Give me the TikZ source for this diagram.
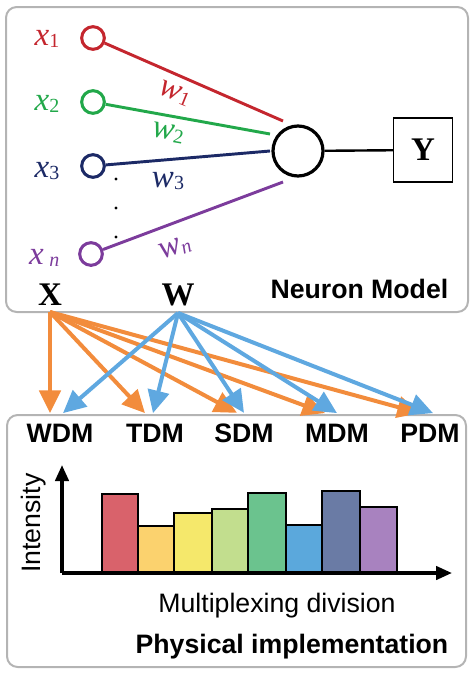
\documentclass[tikz,border=0pt]{standalone}
\usepackage{fontspec}
\setmainfont{Liberation Serif}
\setsansfont{Liberation Sans}
\usetikzlibrary{arrows.meta}
\definecolor{panelgray}{HTML}{B4B4B4}
\definecolor{lred}{HTML}{C4262E}
\definecolor{lgreen}{HTML}{22A84A}
\definecolor{lnavy}{HTML}{1C2A66}
\definecolor{lpurple}{HTML}{7C3C9C}
\definecolor{arrorange}{HTML}{F28C3C}
\definecolor{arrblue}{HTML}{5FA8E0}
\definecolor{bara}{HTML}{D9626B}
\definecolor{barb}{HTML}{FBD26E}
\definecolor{barc}{HTML}{F5E86B}
\definecolor{bard}{HTML}{C2DE8E}
\definecolor{bare}{HTML}{6BC38E}
\definecolor{barf}{HTML}{5BA8DC}
\definecolor{barg}{HTML}{6A7BA5}
\definecolor{barh}{HTML}{A882BF}
\newcommand\labfont{\fontsize{24.75}{28}\selectfont}
\newcommand\sanslab{\fontsize{20}{24}\selectfont\sffamily}
\newcommand\idx[1]{\raisebox{-1.5pt}{\fontsize{15}{17}\selectfont #1}}
\tikzset{
  panel/.style={draw=panelgray, line width=1.5pt, rounded corners=8pt},
  inputnode/.style={circle, draw=#1, line width=2.3pt, minimum size=17pt, inner sep=0pt},
  wire/.style={line width=2.2pt},
  bigarrow/.style={line width=3pt, -{Triangle[length=17pt, width=16pt]}},
  bar/.style={draw=black, line width=1.3pt},
}
\begin{document}
\begin{tikzpicture}[x=0.75pt, y=-0.75pt]
     \useasboundingbox (0,0) rectangle (474,675);
     % panels
     \draw[panel] (6,7) rectangle (468,312);
     \draw[panel] (7,415) rectangle (466,667);
     % neuron model
     \node[inputnode=lred] (in1) at (93,38) {};
     \node[inputnode=lgreen] (in2) at (93,102) {};
     \node[inputnode=lnavy] (in3) at (93,166) {};
     \node[inputnode=lpurple] (inn) at (91,254) {};
     \node[anchor=base east, text=lred, font=\labfont] at (64,45) {\textit{x}\idx{1}};
     \node[anchor=base east, text=lgreen, font=\labfont] at (64,110) {\textit{x}\idx{2}};
     \node[anchor=base east, text=lnavy, font=\labfont] at (64,177) {\textit{x}\idx{3}};
     \node[anchor=base east, text=lpurple, font=\labfont] at (64,264) {\textit{x}\,\idx{\itshape n}};
     \node[circle, draw, line width=2.4pt, minimum size=37.5pt] (neuron) at (298,151) {};
     \node[draw, line width=1.1pt, minimum width=44pt, minimum height=48pt, font=\labfont\bfseries] (out) at (423,150) {Y};
     \coordinate (e1) at (283,121);
     \coordinate (e2) at (270,134);
     \coordinate (e3) at (270,151);
     \coordinate (en) at (283,182);
     \draw[wire, lred] (in1) -- (e1);
     \draw[wire, lgreen] (in2) -- (e2);
     \draw[wire, lnavy] (in3) -- (e3);
     \draw[wire, lpurple] (inn) -- (en);
     \draw[line width=1.8pt] (neuron) -- (out);
     \node[text=lred, font=\labfont, rotate=-22] at (175,93) {\textit{w}\idx{1}};
     \node[text=lgreen, font=\labfont, rotate=-10] at (168,133) {\textit{w}\idx{2}};
     \node[text=lnavy, font=\labfont] at (168,181) {\textit{w}\idx{3}};
     \node[text=lpurple, font=\labfont, rotate=20] at (175,248) {\textit{w}\idx{\itshape n}};
     \fill (116,179) circle (1.6) (116,208) circle (1.6) (116,237) circle (1.6);
     \node[anchor=base, font=\labfont\bfseries] (xvec) at (50,305) {X};
     \node[anchor=base, font=\labfont\bfseries] (wvec) at (178,305) {W};
     \node[anchor=base east, font=\sanslab\bfseries] at (453,298) {Neuron Model};
     % multiplexing labels
     \node[font=\sanslab\bfseries] (wdm) at (60,433) {WDM};
     \node[font=\sanslab\bfseries] (tdm) at (155,433) {TDM};
     \node[font=\sanslab\bfseries] (sdm) at (244,433) {SDM};
     \node[font=\sanslab\bfseries] (mdm) at (337,433) {MDM};
     \node[font=\sanslab\bfseries] (pdm) at (430,433) {PDM};
     \coordinate (xsrc) at (50,312);
     \coordinate (wsrc) at (178,313);
     \draw[bigarrow, arrorange] (xsrc) -- ([shift={(-10,-6)}]wdm.north);
     \draw[bigarrow, arrorange] (xsrc) -- ([shift={(-10,-6)}]tdm.north);
     \draw[bigarrow, arrorange] (xsrc) -- ([shift={(-7,-6)}]sdm.north);
     \draw[bigarrow, arrorange] (xsrc) -- ([shift={(-12,-6)}]mdm.north);
     \draw[bigarrow, arrorange] (xsrc) -- ([shift={(-10,-6)}]pdm.north);
     \draw[bigarrow, arrblue] (wsrc) -- ([shift={(3,-6)}]wdm.north);
     \draw[bigarrow, arrblue] (wsrc) -- ([shift={(-2,-6)}]tdm.north);
     \draw[bigarrow, arrblue] (wsrc) -- ([shift={(0,-6)}]sdm.north);
     \draw[bigarrow, arrblue] (wsrc) -- ([shift={(0,-6)}]mdm.north);
     \draw[bigarrow, arrblue] (wsrc) -- ([shift={(3,-6)}]pdm.north);
     % intensity chart
     \foreach \xa/\xb/\yt/\col in {102/138/494/bara, 138/174/526/barb, 174/212/513/barc,
        212/248/509/bard, 248/286/493/bare, 286/322/525/barf, 322/360/491/barg, 360/397/507/barh}
       \draw[bar, fill=\col] (\xa,573) rectangle (\xb,\yt);
     \draw[line width=2.6pt, -{Triangle[length=12pt, width=10pt]}] (62,573) -- (452,573);
     \draw[line width=2.6pt, -{Triangle[length=12pt, width=10pt]}] (62,573) -- (62,465);
     \node[rotate=90, font=\fontsize{20}{24}\selectfont\sffamily] at (34,523) {Intensity};
     \node[anchor=base, font=\fontsize{20}{24}\selectfont\sffamily] at (277,612) {Multiplexing division};
     \node[anchor=base east, font=\sanslab\bfseries] at (453,653) {Physical implementation};
\end{tikzpicture}
\end{document}
